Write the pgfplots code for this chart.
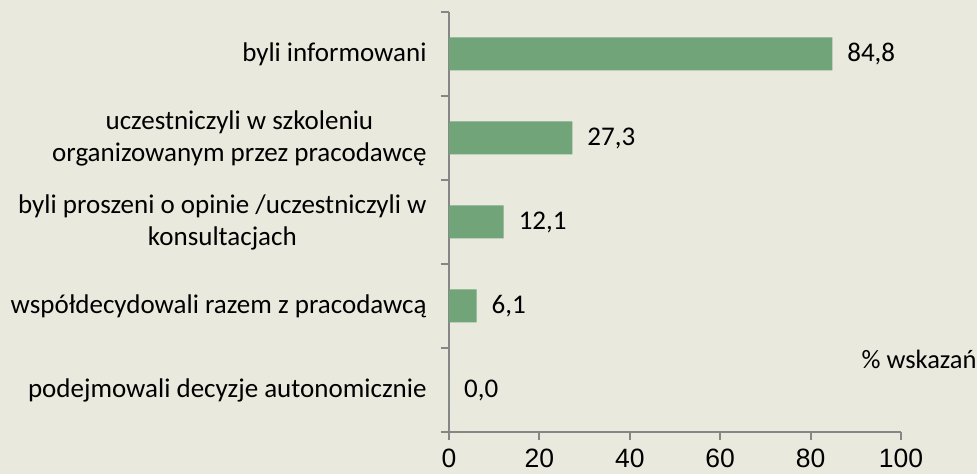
\documentclass[border=0pt]{standalone}
\usepackage{fontspec}
\setmainfont{Carlito}
\newfontfamily\arialf{Liberation Sans}
\usepackage{pgfplots}
\pgfplotsset{compat=1.18}
\usetikzlibrary{backgrounds}

\definecolor{bgc}{RGB}{234,233,222}
\definecolor{barc}{RGB}{114,164,122}
\definecolor{axc}{RGB}{134,134,134}

\begin{document}
\begin{tikzpicture}
\begin{axis}[
  name=ax,
  scale only axis,
  width=226pt, height=210pt,
  xbar, bar width=16.5pt,
  xmin=0, xmax=100,
  ymin=-0.5, ymax=4.5,
  axis x line=bottom, axis y line=left,
  axis line style={-, axc, line width=1pt},
  every tick/.style={axc, line width=1pt},
  tick align=outside,
  xtick={0,20,40,60,80,100},
  major tick length=4pt,
  xticklabel style={font=\arialf\fontsize{13.25}{16}\selectfont, yshift=-2.3pt, inner ysep=2pt},
  /pgf/number format/assume math mode=true,
  ytick={0,1,2,3,4},
  minor ytick={-0.5,0.5,1.5,2.5,3.5,4.5},
  minor tick length=4pt,
  y tick style={draw=none},
  minor y tick style={axc, line width=1pt, draw=axc},
  yticklabels={
    podejmowali decyzje autonomicznie,
    współdecydowali razem z pracodawcą,
    {byli proszeni o opinie /uczestniczyli w\\konsultacjach},
    {uczestniczyli w szkoleniu\\organizowanym przez pracodawcę},
    byli informowani},
  yticklabel style={font=\fontsize{13.5}{16}\selectfont, align=center, inner sep=0pt, xshift=-7pt},
  nodes near coords,
  nodes near coords style={font=\fontsize{13.5}{16}\selectfont, anchor=west, xshift=4pt,
    /pgf/number format/.cd, fixed, fixed zerofill, precision=1, use comma, assume math mode=true},
  clip=false,
]
\addplot[fill=barc, draw=none] coordinates {
  (0,0) (6.1,1) (12.1,2) (27.3,3) (84.8,4)
};
\node[anchor=west, font=\fontsize{13.25}{16}\selectfont, inner sep=0pt] at (rel axis cs:0.912,0.172) {\% wskazań};
\end{axis}
\pgfresetboundingbox
\begin{scope}[on background layer]
\fill[bgc] ([xshift=-224.5pt,yshift=-21pt]ax.south west) rectangle ([xshift=38pt,yshift=6pt]ax.north east);
\end{scope}
\useasboundingbox ([xshift=-224.5pt,yshift=-21pt]ax.south west) rectangle ([xshift=38pt,yshift=6pt]ax.north east);
\end{tikzpicture}
\end{document}
